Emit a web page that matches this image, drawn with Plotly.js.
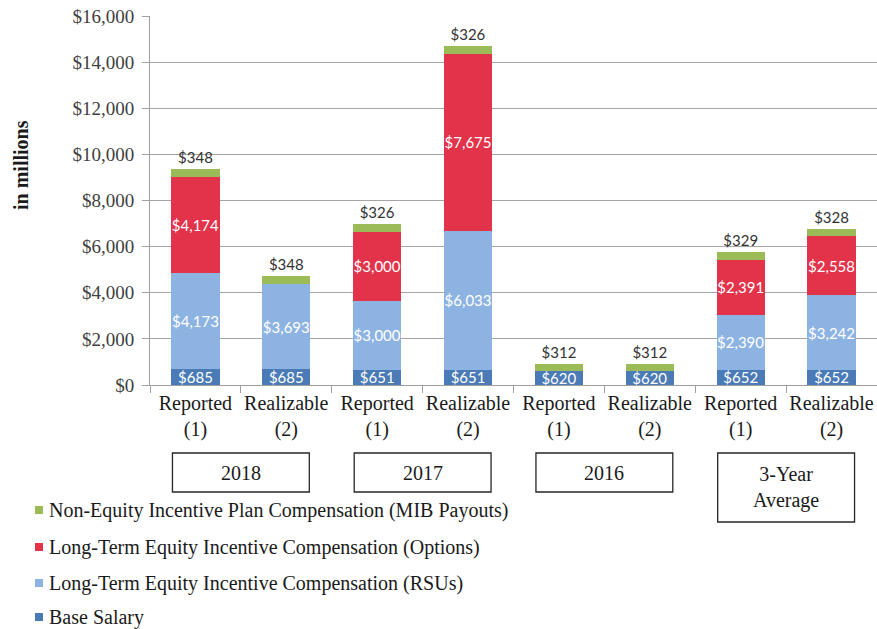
<!DOCTYPE html>
<html><head><meta charset="utf-8">
<script src="https://cdn.plot.ly/plotly-3.0.1.min.js"></script>
<style>html,body{margin:0;padding:0;background:#fff}#chart{width:877px;height:629px}</style>
</head><body><div id="chart"></div>
<script>
// ---- data ----
const categories = ['Reported<br>(1)','Realizable<br>(2)','Reported<br>(1)','Realizable<br>(2)','Reported<br>(1)','Realizable<br>(2)','Reported<br>(1)','Realizable<br>(2)'];
const groups = ['2018','2017','2016','3-Year<br>Average'];
const seriesNames = ['Base Salary','Long-Term Equity Incentive Compensation (RSUs)','Long-Term Equity Incentive Compensation (Options)','Non-Equity Incentive Plan Compensation (MIB Payouts)'];
const baseSalary = [685,685,651,651,620,620,652,652];
const rsus = [4173,3693,3000,6033,0,0,2390,3242];
const options = [4174,0,3000,7675,0,0,2391,2558];
const mib = [348,348,326,326,312,312,329,328];
const yTicks = [0,2000,4000,6000,8000,10000,12000,14000,16000];
const yTickText = ['$0','$2,000','$4,000','$6,000','$8,000','$10,000','$12,000','$14,000','$16,000'];
const yTitle = 'in millions';

// ---- layout helpers ----
const L=150, R=0, T=16, B=244, FW=877, FH=629;
const W=FW-L-R, H=FH-T-B;
const pxX = px => (px-L)/W;
const pxY = py => (T+H-py)/H;
const SERIF = 'Liberation Serif';

const colors = ['#4a7bb7','#8db3e2','#e2334b','#9bbb59'];
const seriesVals = [baseSalary, rsus, options, mib];
const idx = categories.map((_,i)=>i);
const fmt = v => v ? '$' + v.toLocaleString('en-US') : '';

const traces = seriesVals.map((vals, s) => {
  const top = s === seriesVals.length-1;
  return {
    type:'bar', name: seriesNames[s], x: idx, y: vals,
    marker:{color: colors[s], line:{width:0}},
    text: vals.map(fmt),
    textposition: top ? 'outside' : 'inside',
    insidetextanchor:'middle', textangle:0, constraintext:'none', cliponaxis:false,
    textfont:{family:'Lato', size:15, color: top ? '#333333' : '#ffffff'},
    hoverinfo:'none', showlegend:false
  };
});

const shapes = [];
const annotations = [];
const boxTop = 453, boxBottoms = [492,492,492,522];
groups.forEach((g,i)=>{
  const c = 2*i + 0.5;
  shapes.push({type:'rect', xref:'x', yref:'paper', x0:c-0.753, x1:c+0.753,
    y0:pxY(boxBottoms[i]), y1:pxY(boxTop), line:{color:'#262626', width:1.3}, fillcolor:'rgba(0,0,0,0)'});
  annotations.push({xref:'x', yref:'paper', x:c, y:pxY((boxTop+boxBottoms[i])/2), text:g,
    showarrow:false, xanchor:'center', yanchor:'middle',
    font:{family:SERIF, size:20, color:'#1a1a1a'}});
});

// custom legend (reversed order)
const legRows = [510,547,583,617];
[3,2,1,0].forEach((s,k)=>{
  const yc = legRows[k];
  shapes.push({type:'rect', xref:'paper', yref:'paper', x0:pxX(35), x1:pxX(43), y0:pxY(yc+4), y1:pxY(yc-4),
    line:{width:0}, fillcolor: colors[s]});
  annotations.push({xref:'paper', yref:'paper', x:pxX(47), y:pxY(yc), text: seriesNames[s],
    showarrow:false, xanchor:'left', yanchor:'middle',
    font:{family:SERIF, size:20, color:'#1a1a1a'}});
});

annotations.push({xref:'paper', yref:'paper', x:pxX(21), y:pxY(165), text:'<b>'+yTitle+'</b>',
  textangle:-90, showarrow:false, xanchor:'center', yanchor:'middle',
  font:{family:SERIF, size:20, color:'#1a1a1a'}});

const layout = {
  width:FW, height:FH, margin:{l:L, r:R, t:T, b:B},
  paper_bgcolor:'#ffffff', plot_bgcolor:'#ffffff',
  font:{family:SERIF},
  barmode:'stack', bargap:0.47, showlegend:false,
  xaxis:{range:[-0.5,7.5], tickmode:'array', tickvals:idx, ticktext:categories, ticks:'',
    showline:true, linecolor:'#a0a0a0', linewidth:1, showgrid:false, zeroline:false,
    minor:{ticks:'outside', tickmode:'array', tickvals:[-0.5,0.5,1.5,2.5,3.5,4.5,5.5,6.5,7.5], ticklen:7, tickcolor:'#a0a0a0', showgrid:false},
    tickfont:{family:SERIF, size:20, color:'#1a1a1a'}, fixedrange:true},
  yaxis:{range:[0,16000], tickmode:'array', tickvals:yTicks, ticktext:yTickText,
    showgrid:true, gridcolor:'#a6a6a6', gridwidth:1, showline:true, linecolor:'#a0a0a0', linewidth:1,
    ticks:'outside', ticklen:7, tickcolor:'#a0a0a0', zeroline:false, ticklabelstandoff:4,
    tickfont:{family:SERIF, size:19, color:'#404040'}, fixedrange:true},
  shapes: shapes, annotations: annotations
};

Plotly.newPlot('chart', traces, layout, {displayModeBar:false, staticPlot:true});
</script></body></html>
